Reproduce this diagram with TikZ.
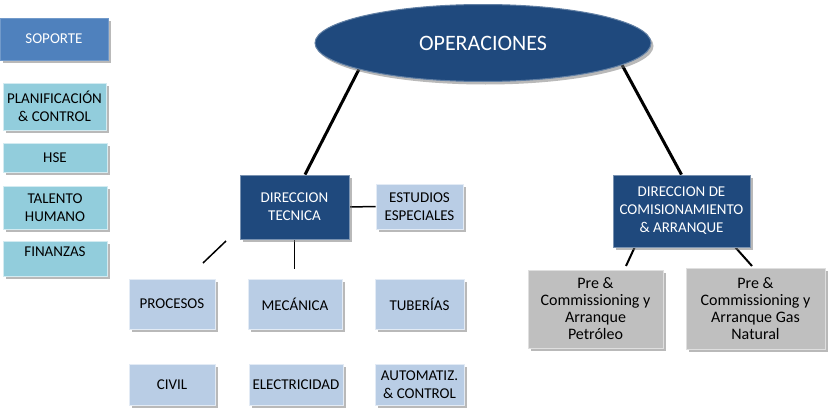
\documentclass[tikz,border=0pt]{standalone}
\usepackage{fontspec}
\setmainfont{Carlito}
\usetikzlibrary{shadows,backgrounds,shapes.geometric}
\definecolor{dkblue}{HTML}{1F497D}
\definecolor{mdblue}{HTML}{4F81BD}
\definecolor{ltblue}{HTML}{B9CDE5}
\definecolor{cyanbox}{HTML}{92CDDC}
\definecolor{graybox}{HTML}{BFBFBF}
\tikzset{
  shd/.style={drop shadow={shadow xshift=2.5pt,shadow yshift=-3pt,fill=black!55}},
  boxbase/.style={rectangle,shd,align=center,inner sep=1pt,font=\fontsize{15}{18}\selectfont,line width=0.8pt},
  supbox/.style={boxbase,fill=cyanbox,draw=white!60!cyanbox,text=black},
  subbox/.style={boxbase,fill=ltblue,draw=white!60!ltblue,text=black},
  dirbox/.style={boxbase,fill=dkblue,draw=white!40!dkblue,text=white},
  grybox/.style={boxbase,fill=graybox,draw=white!50!graybox,text=black,font=\fontsize{16}{17}\selectfont},
  thick line/.style={line width=3pt,black},
  thin line/.style={line width=1.5pt,black},
}
\begin{document}
\begin{tikzpicture}[x=1pt,y=-1pt]
\useasboundingbox (0,0) rectangle (828,415);
% left column
\node[boxbase,fill=mdblue,draw=white!20!mdblue,text=white,minimum width=108pt,minimum height=42pt] (sop) at (54,39) {SOPORTE};
\node[supbox,minimum width=103pt,minimum height=47pt] (plan) at (54.5,106.5) {PLANIFICACIÓN\\\& CONTROL};
\node[supbox,minimum width=104pt,minimum height=29pt] (hse) at (55,157.5) {HSE};
\node[supbox,minimum width=104pt,minimum height=43pt] (tal) at (55,207.5) {TALENTO\\HUMANO};
\node[supbox,minimum width=104pt,minimum height=35pt,text depth=13pt] (fin) at (55,258.5) {FINANZAS};
% top
\node[ellipse,shd,fill=dkblue,draw=white!30!dkblue,line width=1pt,minimum width=336pt,minimum height=77pt,text=white,font=\fontsize{22}{26}\selectfont] (ops) at (483,43) {OPERACIONES};
% direction boxes
\node[dirbox,minimum width=109pt,minimum height=64pt] (dt) at (294.5,207) {DIRECCION\\TECNICA};
\node[subbox,minimum width=87pt,minimum height=45pt] (ee) at (419.5,206.5) {ESTUDIOS\\ESPECIALES};
\node[dirbox,minimum width=137pt,minimum height=72pt] (dc) at (681.5,211) {DIRECCION DE\\COMISIONAMIENTO\\\& ARRANQUE};
% technical areas
\node[subbox,minimum width=86pt,minimum height=50pt] (pro) at (172,304) {PROCESOS};
\node[subbox,minimum width=94pt,minimum height=50pt] (mec) at (295,304) {MECÁNICA};
\node[subbox,minimum width=89pt,minimum height=50pt] (tub) at (419.5,304) {TUBERÍAS};
\node[subbox,minimum width=86pt,minimum height=41pt] (civ) at (172,384.5) {CIVIL};
\node[subbox,minimum width=94pt,minimum height=41pt] (ele) at (296,384.5) {ELECTRICIDAD};
\node[subbox,minimum width=89pt,minimum height=41pt] (aut) at (419.5,384.5) {AUTOMATIZ.\\\& CONTROL};
% commissioning
\node[grybox,minimum width=135pt,minimum height=78pt] (pet) at (595.5,309) {Pre \&\\Commissioning y\\Arranque\\Petróleo};
\node[grybox,minimum width=139pt,minimum height=81pt] (gas) at (755.5,308.5) {Pre \&\\Commissioning y\\Arranque Gas\\Natural};
% free ends
\coordinate (dtb) at (294.5,269);
\coordinate (diagA) at (226,241);
\coordinate (diagB) at (203,263);
\coordinate (dcl) at (626,266);
\coordinate (dcr) at (752,266);
\begin{scope}[on background layer]
\draw[thick line] (ops.192) -- ([xshift=10.5pt]dt.north);
\draw[thick line] (ops.351) -- (dc.north);
\draw[thin line] (dt.east) -- (ee.west);
\draw[thin line] (dt.south) -- (dtb);
\draw[thin line] (diagA) -- (diagB);
\draw[line width=2pt] ([xshift=22pt]dc.south west) -- (dcl);
\draw[line width=2pt] ([xshift=-15pt]dc.south east) -- (dcr);
\end{scope}
\end{tikzpicture}
\end{document}
